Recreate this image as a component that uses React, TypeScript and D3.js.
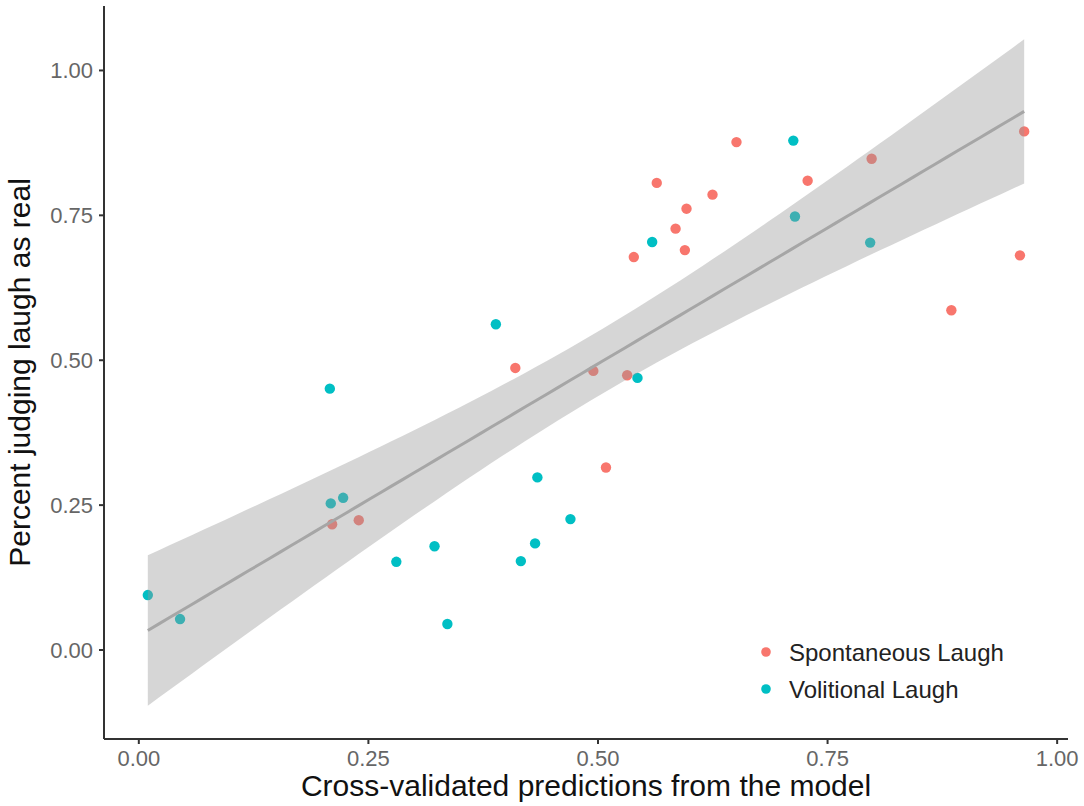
import React from "react";
import * as d3 from "d3";

const spontX = [0.2105, 0.2395, 0.410, 0.4949, 0.5318, 0.5087, 0.539, 0.564, 0.5845, 0.5946, 0.5964, 0.6247, 0.6508, 0.7283, 0.798, 0.8848, 0.9595, 0.9641];
const spontY = [0.217, 0.224, 0.4867, 0.4816, 0.474, 0.315, 0.678, 0.806, 0.727, 0.690, 0.7615, 0.7857, 0.8764, 0.8098, 0.8477, 0.5862, 0.681, 0.8948];
const volX = [0.0098, 0.0449, 0.208, 0.209, 0.2225, 0.2804, 0.322, 0.336, 0.3888, 0.416, 0.4315, 0.434, 0.470, 0.543, 0.559, 0.7127, 0.7145, 0.7964];
const volY = [0.0948, 0.0534, 0.451, 0.253, 0.2626, 0.1522, 0.179, 0.0448, 0.562, 0.1534, 0.184, 0.2978, 0.2259, 0.4695, 0.704, 0.879, 0.748, 0.703];

const xTicks = [0, 0.25, 0.5, 0.75, 1];
const yTicks = [0, 0.25, 0.5, 0.75, 1];
const seriesNames = ["Spontaneous Laugh", "Volitional Laugh"];
const seriesColors = ["#F8766D", "#00BFC4"];
const xTitle = "Cross-validated predictions from the model";
const yTitle = "Percent judging laugh as real";

const W = 1084, H = 806;
const panel = { left: 104, right: 1068, top: 6, bottom: 739 };
const FONT = "'Liberation Sans', Arial, Helvetica, sans-serif";

export default function App() {
  const allX = [...spontX, ...volX];
  const allY = [...spontY, ...volY];
  const n = allX.length;
  const mx = d3.mean(allX)!;
  const my = d3.mean(allY)!;
  let sxx = 0, sxy = 0;
  for (let i = 0; i < n; i++) {
    sxx += (allX[i] - mx) ** 2;
    sxy += (allX[i] - mx) * (allY[i] - my);
  }
  const b = sxy / sxx;
  const a = my - b * mx;
  let sse = 0;
  for (let i = 0; i < n; i++) sse += (allY[i] - (a + b * allX[i])) ** 2;
  const s = Math.sqrt(sse / (n - 2));
  const tq = 2.032; // qt(0.975, 34)
  const [x0, x1] = d3.extent(allX) as [number, number];
  const fit = d3.range(80).map((i) => {
    const x = x0 + ((x1 - x0) * i) / 79;
    const yhat = a + b * x;
    const se = s * Math.sqrt(1 / n + (x - mx) ** 2 / sxx);
    return { x, y: yhat, lo: yhat - tq * se, hi: yhat + tq * se };
  });

  const xr = x1 - x0;
  const ymin = Math.min(d3.min(allY)!, d3.min(fit, (d) => d.lo)!);
  const ymax = Math.max(d3.max(allY)!, d3.max(fit, (d) => d.hi)!);
  const yr = ymax - ymin;
  const xs = d3.scaleLinear().domain([x0 - 0.05 * xr, x1 + 0.05 * xr]).range([panel.left, panel.right]);
  const ys = d3.scaleLinear().domain([ymin - 0.05 * yr, ymax + 0.05 * yr]).range([panel.bottom, panel.top]);

  const area = d3.area<any>().x((d) => xs(d.x)).y0((d) => ys(d.lo)).y1((d) => ys(d.hi));
  const line = d3.line<any>().x((d) => xs(d.x)).y((d) => ys(d.y));

  const series = [
    { xs: spontX, ys: spontY, color: seriesColors[0] },
    { xs: volX, ys: volY, color: seriesColors[1] },
  ];

  return (
    <svg width={W} height={H} style={{ position: "absolute", left: 0, top: 0, background: "#fff" }} fontFamily={FONT}>
      <rect x={0} y={0} width={W} height={H} fill="#fff" />
      {series.map((sr, si) =>
        sr.xs.map((x, i) => (
          <circle key={`${si}-${i}`} cx={xs(x)} cy={ys(sr.ys[i])} r={5.2} fill={sr.color} />
        ))
      )}
      <path d={area(fit)!} fill="#999999" fillOpacity={0.4} />
      <path d={line(fit)!} fill="none" stroke="#a6a6a6" strokeWidth={3} />

      {/* axes */}
      <line x1={panel.left} x2={panel.left} y1={panel.top} y2={panel.bottom} stroke="#333" strokeWidth={2} />
      <line x1={panel.left} x2={panel.right} y1={panel.bottom} y2={panel.bottom} stroke="#333" strokeWidth={2} />
      {xTicks.map((t) => (
        <g key={`xt${t}`}>
          <line x1={xs(t)} x2={xs(t)} y1={panel.bottom} y2={panel.bottom + 5} stroke="#333" strokeWidth={2} />
          <text x={xs(t)} y={766} textAnchor="middle" fontSize={22} fill="#666">{t.toFixed(2)}</text>
        </g>
      ))}
      {yTicks.map((t) => (
        <g key={`yt${t}`}>
          <line x1={panel.left - 5} x2={panel.left} y1={ys(t)} y2={ys(t)} stroke="#333" strokeWidth={2} />
          <text x={93} y={ys(t)} dy="0.36em" textAnchor="end" fontSize={22} fill="#666">{t.toFixed(2)}</text>
        </g>
      ))}
      <text x={(panel.left + panel.right) / 2} y={796} textAnchor="middle" fontSize={30} fill="#111">{xTitle}</text>
      <text transform={`translate(30,${(panel.top + panel.bottom) / 2}) rotate(-90)`} textAnchor="middle" fontSize={30} fill="#111">{yTitle}</text>

      {/* legend */}
      {seriesNames.map((nm, i) => (
        <g key={nm} transform={`translate(766,${652 + i * 37})`}>
          <circle cx={0} cy={0} r={4.8} fill={seriesColors[i]} />
          <text x={23} y={0} dy="0.36em" fontSize={24} fill="#222">{nm}</text>
        </g>
      ))}
    </svg>
  );
}
